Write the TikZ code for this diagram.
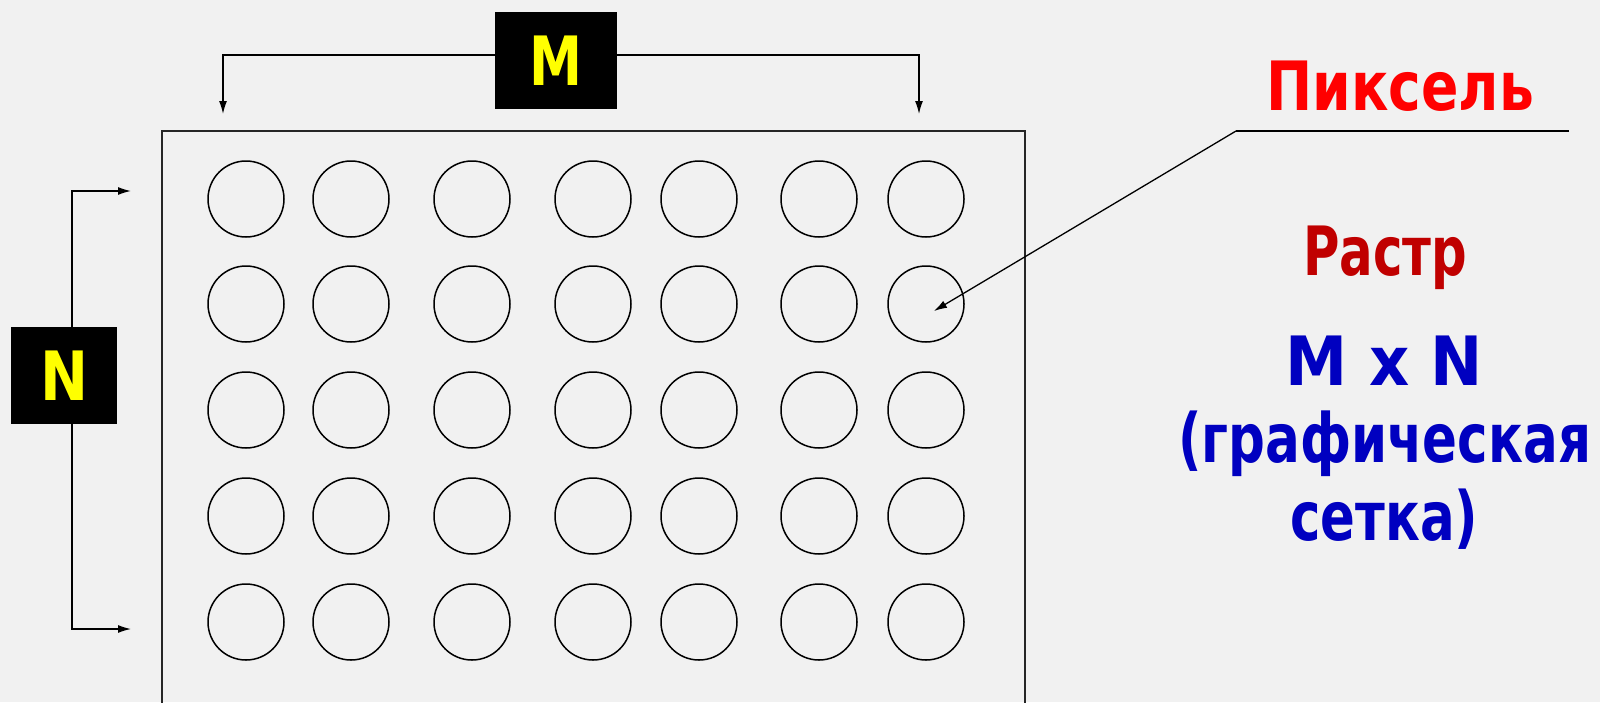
\documentclass[tikz,border=0pt]{standalone}
\usepackage{fontspec}
\usepackage{graphicx}
\setmainfont{DejaVu Sans}
\usetikzlibrary{arrows.meta}
\definecolor{bg}{RGB}{241,241,241}
\definecolor{pixred}{RGB}{255,0,0}
\definecolor{rastred}{RGB}{192,0,0}
\definecolor{gridblue}{RGB}{0,0,192}
\definecolor{mkyellow}{RGB}{255,255,0}
\newsavebox\fitbox
\newdimen\fitdim
\newcommand\fitw[2]{\sbox\fitbox{#2}\fitdim=\wd\fitbox\pgfmathsetmacro\fitsc{#1/\fitdim}\scalebox{\fitsc}[1]{\usebox\fitbox}}
\begin{document}
\begin{tikzpicture}[x=1pt,y=-1pt,
  arr/.style={line width=1.3pt,-{Latex[length=13pt,width=8pt]}},
  pix/.style={circle,draw,line width=1.5pt,minimum size=76pt,inner sep=0pt},
  lblbox/.style={fill=black,text=mkyellow,inner sep=0pt,font=\fontsize{68}{80}\selectfont\bfseries},
  big/.style={anchor=base west,inner sep=0pt,font=\fontsize{68}{80}\selectfont\bfseries}]
\useasboundingbox (0,0) rectangle (1600,702);
\fill[bg] (0,0) rectangle (1600,702);
\clip (0,0) rectangle (1600,702);
% main raster frame
\draw[line width=1.4pt,black!85] (162,720) -- (162,131) -- (1025,131) -- (1025,720);
% pixels
\foreach \r/\y in {1/199,2/304,3/410,4/516,5/622}{
  \foreach \c/\x in {1/246,2/351,3/472,4/593,5/699,6/819,7/926}{
    \node[pix] (c-\r-\c) at (\x,\y) {};
  }
}
% M label
\node[lblbox,minimum width=122pt,minimum height=97pt] (M) at (556,60.5) {\fitw{53}{M}};
\coordinate (mL) at (223,114);
\coordinate (mR) at (919,114);
\draw[arr] ([yshift=5.5pt]M.west) -| (mL);
\draw[arr] ([yshift=5.5pt]M.east) -| (mR);
% N label
\node[lblbox,minimum width=106pt,minimum height=97pt] (N) at (64,375.5) {\fitw{48}{N}};
\coordinate (nT) at (131,191);
\coordinate (nB) at (131,629);
\draw[arr] ([xshift=8pt]N.north) |- (nT);
\draw[arr] ([xshift=8pt]N.south) |- (nB);
% pixel leader
\coordinate (lead) at (1569,131);
\coordinate (kink) at (1236,131);
\draw[line width=1.3pt] (lead) -- (kink);
\draw[arr] (kink) -- ([shift={(8,7)}]c-2-7.center);
% texts
\node[big,text=pixred] (tpix) at (1266,110) {\fitw{268}{Пиксель}};
\node[big,text=rastred] (trast) at (1303,275) {\fitw{164}{Растр}};
\node[big,text=gridblue] (tmn) at (1285,385) {\fitw{198}{M x N}};
\node[big,text=gridblue] (tgr) at (1178,462) {\fitw{413}{(графическая}};
\node[big,text=gridblue] (tset) at (1290,540) {\fitw{188}{сетка)}};
\end{tikzpicture}
\end{document}
